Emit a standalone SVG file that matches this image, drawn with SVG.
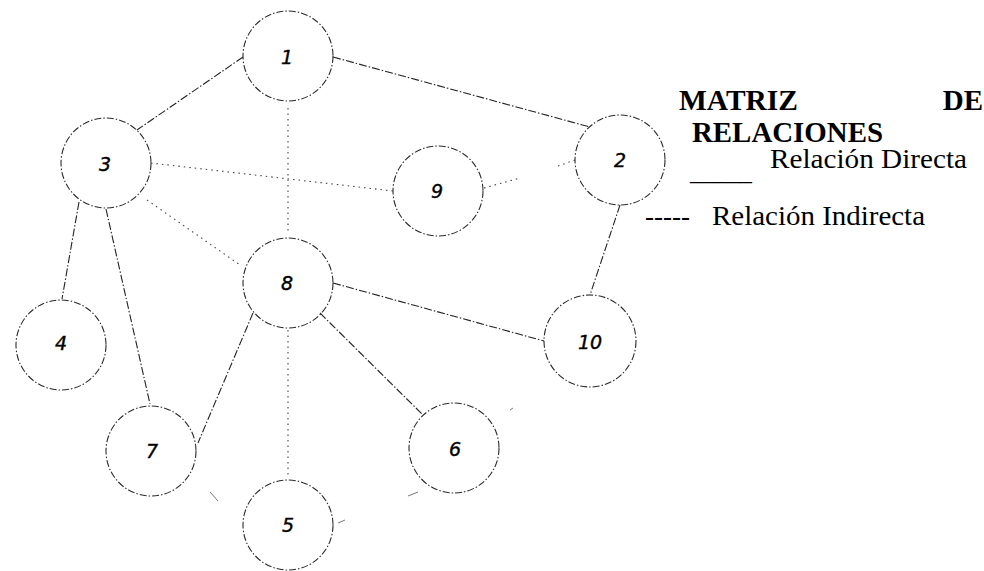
<svg xmlns="http://www.w3.org/2000/svg" width="984" height="571" viewBox="0 0 984 571">
<style>
.node circle{fill:none;stroke:#2a2a2a;stroke-width:1.1;stroke-dasharray:7 2 1.5 2}
.node text{font-family:"DejaVu Sans","Liberation Sans",sans-serif;font-style:italic;font-size:19px;text-anchor:middle;dominant-baseline:central;fill:#000;stroke:#000;stroke-width:0.4}
.direct{stroke:#222;stroke-width:1.1;stroke-dasharray:8 2 1.5 2;fill:none}
.indirect{stroke:#444;stroke-width:1.1;stroke-dasharray:1.5 4;fill:none}
.stray{stroke:#777;stroke-width:1;fill:none}
.hd{font-family:"Liberation Serif","Times New Roman",serif;font-weight:bold;font-size:29px;fill:#000}
.lg{font-family:"Liberation Serif","Times New Roman",serif;font-size:27px;fill:#000}
</style>
<rect width="984" height="571" fill="#fff"/>
<g id="connectors">
<line class="direct" x1="243" y1="57" x2="137" y2="130"/>
<line class="direct" x1="333" y1="57" x2="590" y2="127"/>
<line class="indirect" x1="288" y1="108" x2="288" y2="232"/>
<line class="indirect" x1="151" y1="163" x2="393" y2="191"/>
<line class="indirect" x1="147" y1="200" x2="240" y2="265"/>
<line class="indirect" x1="484" y1="188" x2="520" y2="178"/>
<line class="indirect" x1="558" y1="166" x2="575" y2="160"/>
<line class="direct" x1="79" y1="202" x2="62" y2="299"/>
<line class="direct" x1="106" y1="209" x2="150" y2="404"/>
<line class="direct" x1="253" y1="313" x2="198" y2="443"/>
<line class="indirect" x1="288" y1="330" x2="288" y2="478"/>
<line class="direct" x1="320" y1="313" x2="423" y2="415"/>
<line class="direct" x1="333" y1="283" x2="544" y2="341"/>
<line class="direct" x1="620" y1="205" x2="590" y2="295"/>
<line class="stray" x1="210" y1="492" x2="218" y2="501"/>
<line class="stray" x1="338" y1="523" x2="345" y2="520"/>
<line class="stray" x1="408" y1="496" x2="418" y2="492"/>
<line class="stray" x1="510" y1="410" x2="513" y2="408"/>
</g>
<g id="n1" class="node"><circle cx="288" cy="56" r="45"/><text x="287" y="57">1</text></g>
<g id="n2" class="node"><circle cx="620" cy="160" r="45"/><text x="620" y="160">2</text></g>
<g id="n3" class="node"><circle cx="106" cy="163" r="45"/><text x="105" y="164">3</text></g>
<g id="n4" class="node"><circle cx="61" cy="345" r="45"/><text x="61" y="343">4</text></g>
<g id="n5" class="node"><circle cx="288" cy="525" r="45"/><text x="288" y="525">5</text></g>
<g id="n6" class="node"><circle cx="454" cy="448" r="45"/><text x="455" y="449">6</text></g>
<g id="n7" class="node"><circle cx="151" cy="451" r="45"/><text x="152" y="451">7</text></g>
<g id="n8" class="node"><circle cx="288" cy="283" r="45"/><text x="287" y="283">8</text></g>
<g id="n9" class="node"><circle cx="438" cy="191" r="45"/><text x="437" y="191">9</text></g>
<g id="n10" class="node"><circle cx="590" cy="341" r="46"/><text x="590" y="342">10</text></g>
<g id="legend">
<text class="hd" x="679" y="110" textLength="119" lengthAdjust="spacingAndGlyphs">MATRIZ</text>
<text class="hd" x="983" y="110" text-anchor="end">DE</text>
<text class="hd" x="692" y="142" textLength="191" lengthAdjust="spacingAndGlyphs">RELACIONES</text>
<text class="lg" x="770" y="168" textLength="197" lengthAdjust="spacingAndGlyphs">Relación Directa</text>
<text class="lg" x="690" y="180" textLength="62" lengthAdjust="spacingAndGlyphs">_____</text>
<text class="lg" x="645" y="225">-----<tspan x="712" textLength="213" lengthAdjust="spacingAndGlyphs">Relación Indirecta</tspan></text>
</g>
</svg>
